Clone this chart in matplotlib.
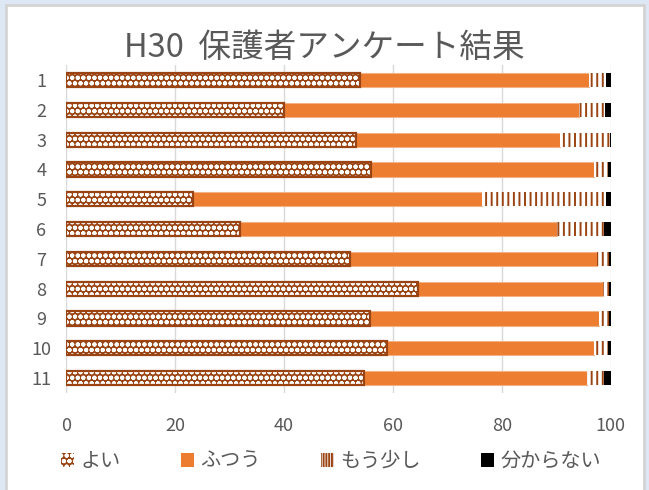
import numpy as np
import matplotlib.pyplot as plt
from matplotlib.patches import Rectangle

plt.rcParams['font.family'] = ['Noto Sans CJK JP', 'DejaVu Sans']
plt.rcParams['hatch.linewidth'] = 1.4

# ======================
# DATA
# ======================
categories = ["1", "2", "3", "4", "5", "6", "7", "8", "9", "10", "11"]
series_names = ["よい", "ふつう", "もう少し", "分からない"]
yoi = [53.9, 40.0, 53.2, 56.0, 23.3, 32.0, 52.1, 64.6, 55.8, 58.9, 54.7]
futsuu = [42.2, 54.1, 37.4, 40.9, 53.0, 58.1, 45.3, 33.9, 42.1, 38.0, 40.9]
mousukoshi = [3.0, 4.8, 9.2, 2.6, 22.9, 8.6, 2.2, 1.2, 1.8, 2.6, 3.1]
wakaranai = [0.9, 1.1, 0.2, 0.5, 0.8, 1.3, 0.4, 0.3, 0.3, 0.5, 1.3]
xticks = [0, 20, 40, 60, 80, 100]

BROWN = "#9a4413"
ORANGE = "#ed7d31"
GRAY = "#595959"

# ======================
# FIGURE
# ======================
fig = plt.figure(figsize=(6.49, 4.90), dpi=100, facecolor="#dde8f4")
fig.patches.append(Rectangle((6 / 649, -0.01), 638 / 649, 1 - 5 / 490 + 0.01,
                             transform=fig.transFigure, facecolor="white",
                             edgecolor="#d4d4d4", linewidth=2, zorder=-5))

ax = fig.add_axes([0.102, 0.198, 0.839, 0.669])
ax.set_facecolor("none")

y = np.arange(len(categories))
h = 0.48
data = np.array([yoi, futsuu, mousukoshi, wakaranai])
lefts = np.vstack([np.zeros(len(categories)), np.cumsum(data, axis=0)[:-1]])

# よい: brown with white dots
ax.barh(y, data[0], left=lefts[0], height=h, color=BROWN, edgecolor="white",
        hatch="ooo", linewidth=0, zorder=2)
ax.barh(y, data[0], left=lefts[0], height=h, facecolor="none", edgecolor=BROWN,
        linewidth=1.6, zorder=3)
# ふつう
ax.barh(y, data[1], left=lefts[1], height=h, color=ORANGE, edgecolor="#f4b183",
        linewidth=0.8, zorder=2)
# もう少し: vertical lines
ax.barh(y, data[2], left=lefts[2], height=h, facecolor="white", edgecolor=BROWN,
        hatch="|||", linewidth=0, zorder=2)
# 分からない
ax.barh(y, data[3], left=lefts[3], height=h, color="black", linewidth=0, zorder=2)

ax.set_xlim(0, 100)
ax.set_ylim(len(categories) - 0.5, -0.5)
ax.set_xticks(xticks)
ax.set_yticks(y)
ax.set_yticklabels(categories)
ax.tick_params(axis="both", length=0, labelsize=13, labelcolor=GRAY)
ax.tick_params(axis="x", pad=17)
ax.tick_params(axis="y", pad=18)
for lab in ax.get_yticklabels():
    lab.set_horizontalalignment("center")
ax.grid(axis="x", color="#d9d9d9", linewidth=1, zorder=0)
ax.set_axisbelow(True)
for s in ax.spines.values():
    s.set_visible(False)

fig.text(0.5, 0.903, "H30  保護者アンケート結果", ha="center", va="center",
         fontsize=23.5, color=GRAY)

# ======================
# LEGEND
# ======================
handles = [
    Rectangle((0, 0), 1, 1, facecolor=BROWN, edgecolor="white", hatch="ooo", linewidth=0),
    Rectangle((0, 0), 1, 1, facecolor=ORANGE, linewidth=0),
    Rectangle((0, 0), 1, 1, facecolor="white", edgecolor=BROWN, hatch="||||||", linewidth=0),
    Rectangle((0, 0), 1, 1, facecolor="black", linewidth=0),
]
leg = fig.legend(handles, series_names, loc="center", bbox_to_anchor=(0.51, 0.058),
                 ncol=4, frameon=False, fontsize=14.5, handlelength=0.65,
                 handleheight=0.7, handletextpad=0.3, columnspacing=3.0)
for t in leg.get_texts():
    t.set_color(GRAY)

fig.savefig("out.png", dpi=100, facecolor=fig.get_facecolor())
